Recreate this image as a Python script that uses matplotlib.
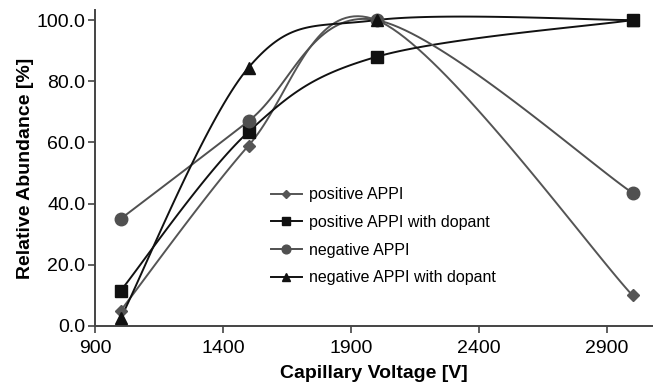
import numpy as np
import matplotlib.pyplot as plt
from matplotlib.ticker import FormatStrFormatter

plt.rcParams['font.family'] = ['Liberation Sans', 'DejaVu Sans']

voltage = [1000, 1500, 2000, 3000]
pos_appi = [5.0, 59.0, 100.0, 10.0]
pos_appi_dopant = [11.5, 63.5, 88.0, 100.0]
neg_appi = [35.0, 67.0, 100.0, 43.5]
neg_appi_dopant = [2.5, 84.5, 100.0, 100.0]

def SmoothCurve(xs, ys, steps=40):
	"""Spreadsheet-style smoothed line: cubic Bezier segments with 1/6 neighbour tangents"""
	p = np.column_stack([xs, ys]).astype(float)
	n = len(p)
	out = []
	for i in range(n - 1):
		prev = p[i - 1] if i > 0 else p[i]
		nxt = p[i + 2] if i + 2 < n else p[i + 1]
		c1 = p[i] + (p[i + 1] - prev) / 6
		c2 = p[i + 1] - (nxt - p[i]) / 6
		t = np.linspace(0, 1, steps)[:, None]
		seg = ((1 - t) ** 3) * p[i] + 3 * ((1 - t) ** 2) * t * c1 + 3 * (1 - t) * t ** 2 * c2 + t ** 3 * p[i + 1]
		out.append(seg if i == 0 else seg[1:])
	out = np.vstack(out)
	return out[:, 0], out[:, 1]

series = [
	("positive APPI", pos_appi, "#555555", "D", 6),
	("positive APPI with dopant", pos_appi_dopant, "#111111", "s", 9),
	("negative APPI", neg_appi, "#505050", "o", 9),
	("negative APPI with dopant", neg_appi_dopant, "#111111", "^", 9),
]

fig = plt.figure(figsize=(6.53, 3.82), dpi=100)
ax = fig.add_axes([95 / 653, 56 / 382, 558 / 653, 316 / 382])

for label, vals, color, marker, ms in series:
	sx, sy = SmoothCurve(voltage, vals)
	ax.plot(sx, sy, color=color, lw=1.4, zorder=2)
	ax.plot(voltage, vals, linestyle='none', marker=marker, color=color, ms=ms, zorder=3)
	# legend proxy with both line and marker
	ax.plot([], [], color=color, lw=1.4, marker=marker, ms=ms * 0.7, label=label)

ax.set_xlim(900, 3080)
ax.set_ylim(0, 103.3)
ax.set_xticks([900, 1400, 1900, 2400, 2900])
ax.set_yticks([0, 20, 40, 60, 80, 100])
ax.yaxis.set_major_formatter(FormatStrFormatter('%.1f'))
ax.tick_params(labelsize=14, length=5, width=1.2, color='#444444')
ax.tick_params(axis='x', pad=5)
ax.tick_params(axis='y', pad=2)
for s in ['top', 'right']:
	ax.spines[s].set_visible(False)
for s in ['left', 'bottom']:
	ax.spines[s].set_color('#444444')
	ax.spines[s].set_linewidth(1.4)

ax.set_xlabel("Capillary Voltage [V]", fontsize=14, fontweight='bold', labelpad=6)
ax.set_ylabel("Relative Abundance [%]", fontsize=14, fontweight='bold', labelpad=2)

ax.legend(loc='upper left', bbox_to_anchor=(0.29, 0.485), frameon=False, fontsize=11.5,
	handlelength=1.9, labelspacing=0.8, handletextpad=0.45)

fig.savefig("out.png", dpi=100)
